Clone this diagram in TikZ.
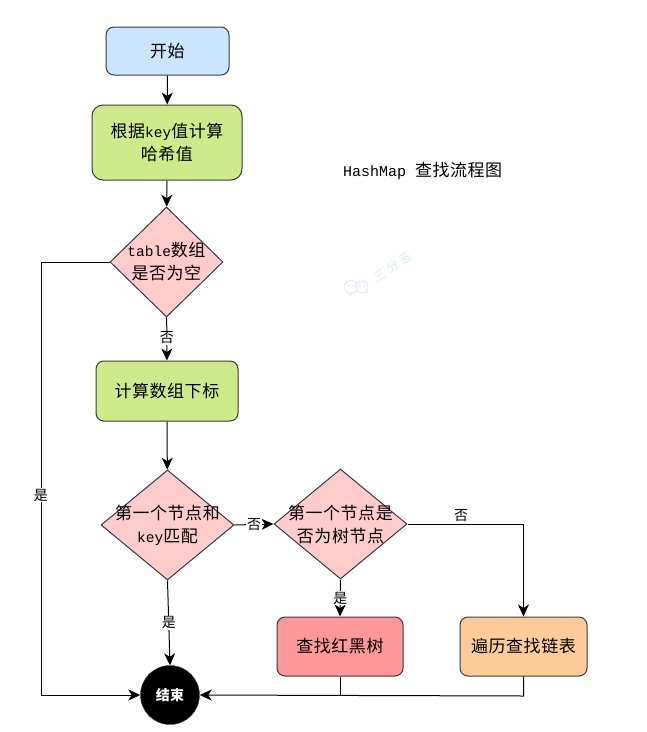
\documentclass[tikz,border=0pt]{standalone}
\usepackage{fontspec}
\setmainfont[LetterSpace=3]{Noto Sans CJK SC}
\newfontfamily\lat{Liberation Mono}
\newfontfamily\markfont[LetterSpace=25]{Noto Sans CJK SC}
\usetikzlibrary{shapes.geometric,arrows.meta}
\definecolor{edgegrey}{HTML}{36393D}
\definecolor{startblue}{HTML}{CCE5FF}
\definecolor{stepgreen}{HTML}{CDEB8B}
\definecolor{decpink}{HTML}{FFCCCC}
\definecolor{treered}{HTML}{FF9999}
\definecolor{listorange}{HTML}{FFCC99}
\definecolor{markblue}{HTML}{D6EAF8}
\tikzset{
  x=1pt,y=-1pt,
  txt/.style={font=\fontsize{17}{23}\selectfont,align=center,text=black},
  box/.style={draw=edgegrey,line width=1pt,rounded corners=8pt,inner sep=0pt,txt},
  decision/.style={draw=edgegrey,fill=decpink,line width=1pt,diamond,aspect=1.2,inner sep=0pt,minimum width=133pt,minimum height=110pt},
  dectext/.style={txt,inner sep=0pt},
  edgelabel/.style={fill=white,inner sep=1pt,font=\fontsize{14}{14}\selectfont},
  flow/.style={draw=black,line width=1pt,-{Stealth[length=12pt,width=11pt,inset=3.5pt]}},
  plainline/.style={draw=black,line width=1pt},
}
\newcommand{\en}[1]{{\lat\fontsize{14.5}{23}\selectfont #1}}
\begin{document}
\begin{tikzpicture}
\useasboundingbox (0,0) rectangle (647,732);

% process boxes
\node[box,fill=startblue,minimum width=123pt,minimum height=48pt] (start) at (167.5,51) {开始};
\node[box,fill=stepgreen,minimum width=150pt,minimum height=75pt,rounded corners=11pt] (hash) at (167,142.5) {根据\en{key}值计算\\哈希值};
\node[box,fill=stepgreen,minimum width=142pt,minimum height=60pt] (index) at (167,391) {计算数组下标};
\node[box,fill=treered,minimum width=126pt,minimum height=59pt] (tree) at (340,646.5) {查找红黑树};
\node[box,fill=listorange,minimum width=127pt,minimum height=59pt] (list) at (523.5,646.5) {遍历查找链表};

% decisions
\node[decision,minimum width=113pt,label={[dectext]center:\en{table}数组\\是否为空}] (empty) at (166.5,262) {};
\node[decision,label={[dectext]center:第一个节点和\\\en{key}匹配}] (match) at (167.5,525) {};
\node[decision,label={[dectext]center:第一个节点是\\否为树节点}] (istree) at (340.5,524) {};

% terminator
\node[circle,fill=black,draw=edgegrey,minimum size=59pt,inner sep=0pt,text=white,font=\fontsize{14}{14}\selectfont\bfseries] (stop) at (170,695) {结束};

% title
\node[anchor=west,inner sep=0pt,font=\fontsize{17}{17}\selectfont] (title) at (343,171) {{\lat\fontsize{15}{17}\selectfont HashMap }查找流程图};

% routing points
\coordinate (rail) at (41,262);
\coordinate (listcorner) at (523.5,524);
\coordinate (treedrop) at (340,696);
\coordinate (listdrop) at (523.5,696);

% connectors
\draw[flow] (start) -- (hash);
\draw[flow] (hash) -- (empty);
\draw[flow] (empty) -- (index) node[pos=.48,edgelabel] (l1) {否};
\draw[flow] (index) -- (match);
\draw[flow] (empty.west) -- (rail) |- (stop.west);
\node[edgelabel] (l2) at (41,495) {是};
\draw[flow] (match.south) -- (stop.north) node[pos=.5,edgelabel] (l3) {是};
\draw[flow] (match.east) -- (istree.west) node[pos=.5,edgelabel] (l4) {否};
\draw[flow] (istree.south) -- (tree.north) node[pos=.5,edgelabel] (l5) {是};
\draw[flow] (istree.east) -- (listcorner) -- (list.north);
\node[edgelabel] (l6) at (461,516) {否};
\draw[plainline] (tree.south) -- (treedrop);
\draw[flow] (list.south) -- (listdrop) -- (stop.east);

% faint mark beside the title
\begin{scope}[markblue,line width=.8pt]
  \draw[fill=white] (351,287) circle (6.5);
  \draw[fill=white] (362,287) circle (6);
  \draw (347,292) -- (351,296) -- (352,293.5);
  \draw (366,291) -- (368,293);
  \fill (348.5,286) circle (.9) (353.5,286) circle (.9) (359.5,286) circle (.9) (364.5,286) circle (.9);
  \node[rotate=33,text=markblue,inner sep=0pt,font=\markfont\fontsize{12}{12}\selectfont] (mark) at (393,267) {三分恶};
\end{scope}
\end{tikzpicture}
\end{document}
